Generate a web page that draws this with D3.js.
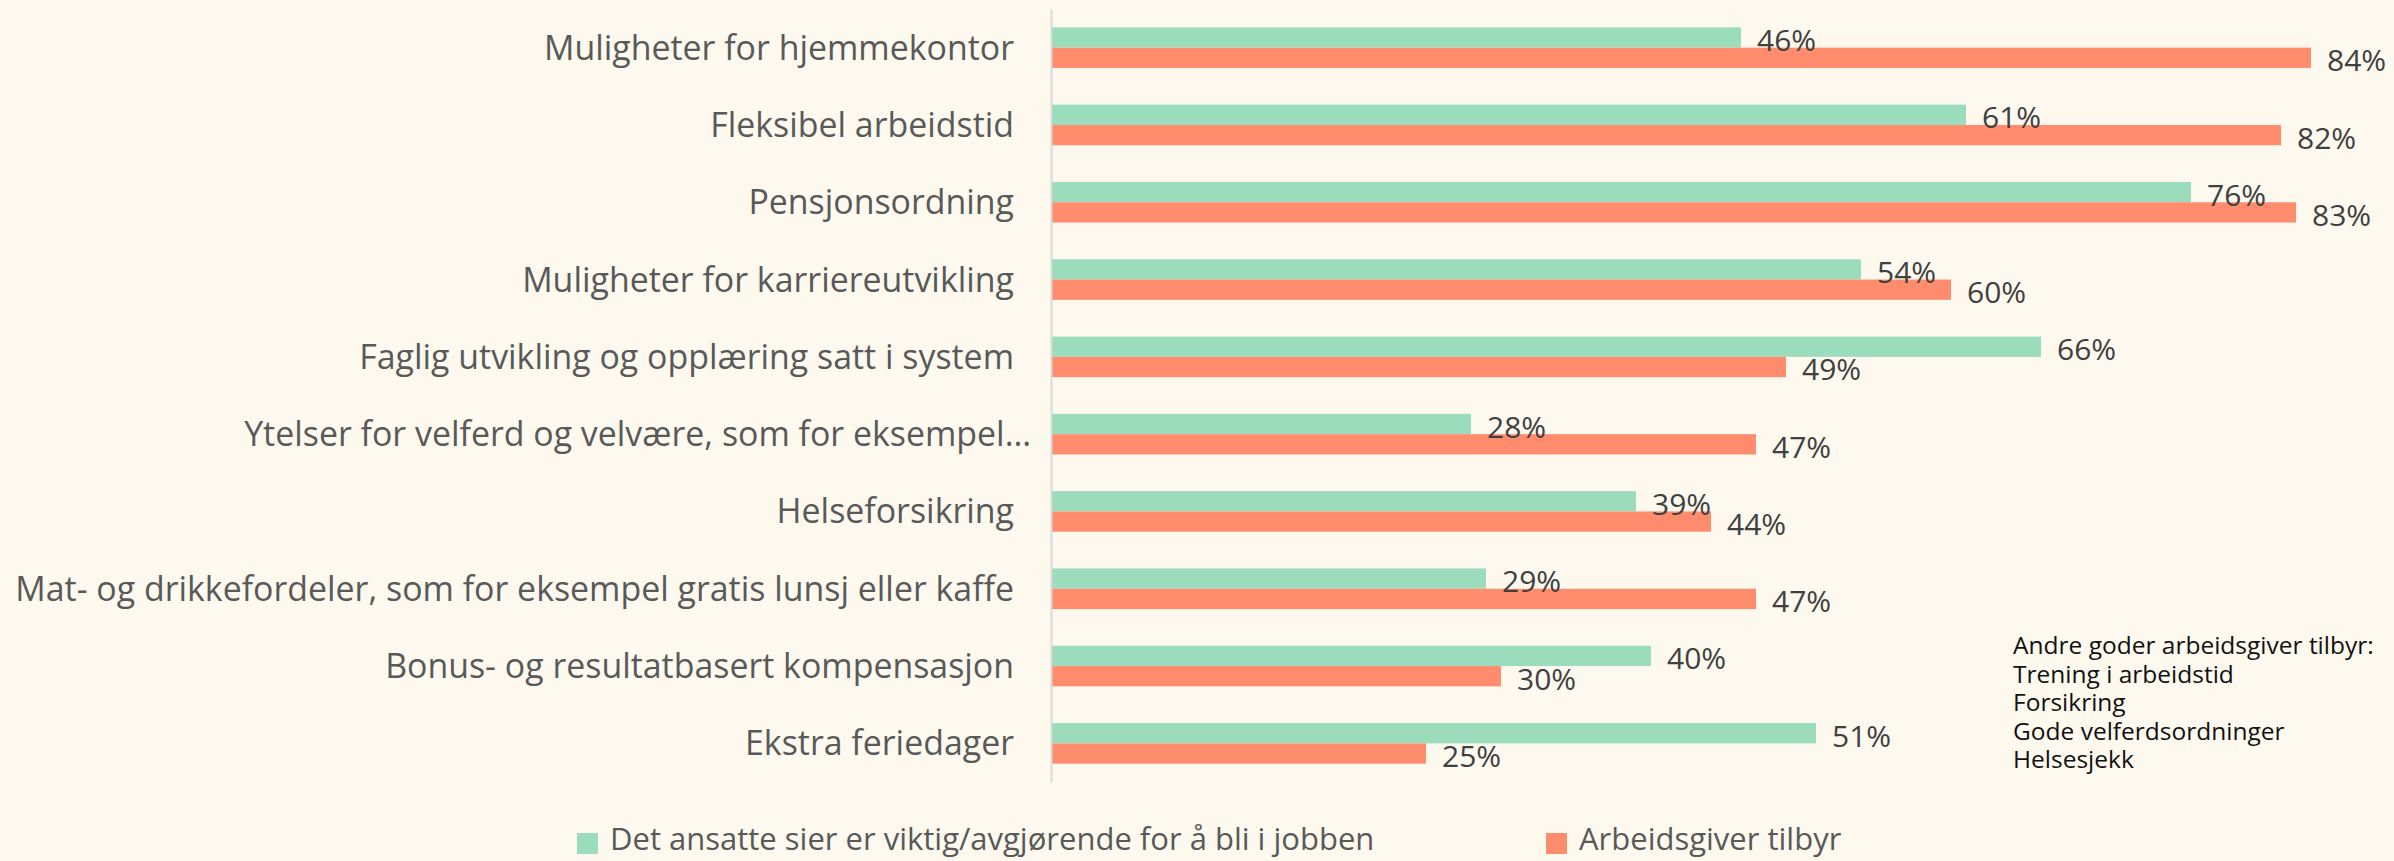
<!DOCTYPE html>
<html>
<head>
<meta charset="utf-8">
<script src="https://cdn.jsdelivr.net/npm/d3@7"></script>
<style>
  html, body { margin: 0; padding: 0; background: #FDF9EE; }
  svg { display: block; font-family: "Open Sans", "Noto Sans", sans-serif; }
  .cat-label   { fill: #595959; }
  .value-label { fill: #404040; }
  .legend-text { fill: #595959; }
  .note-text   { fill: #111111; }
</style>
</head>
<body>
<div id="chart"></div>
<script>
// ── Data ─────────────────────────────────────────────────────
const categories = [
  "Muligheter for hjemmekontor",
  "Fleksibel arbeidstid",
  "Pensjonsordning",
  "Muligheter for karriereutvikling",
  "Faglig utvikling og opplæring satt i system",
  "Ytelser for velferd og velvære, som for eksempel…",
  "Helseforsikring",
  "Mat- og drikkefordeler, som for eksempel gratis lunsj eller kaffe",
  "Bonus- og resultatbasert kompensasjon",
  "Ekstra feriedager"
];
const seriesNames = [
  "Det ansatte sier er viktig/avgjørende for å bli i jobben",
  "Arbeidsgiver tilbyr"
];
const ansatte      = [46, 61, 76, 54, 66, 28, 39, 29, 40, 51];
const arbeidsgiver = [84, 82, 83, 60, 49, 47, 44, 47, 30, 25];
const noteLines = [
  "Andre goder arbeidsgiver tilbyr:",
  "Trening i arbeidstid",
  "Forsikring",
  "Gode velferdsordninger",
  "Helsesjekk"
];

// ── Layout ───────────────────────────────────────────────────
const W = 2394, H = 861;
const plot = { left: 1051, right: 2551, top: 9, bottom: 782 };
const colors = ["#9BDCBD", "#FF8D6D"];

const svg = d3.select("#chart").append("svg")
  .attr("width", W)
  .attr("height", H);

svg.append("rect").attr("width", W).attr("height", H).attr("fill", "#FDF9EE");

// scales
const x = d3.scaleLinear().domain([0, 100]).range([plot.left, plot.right]);
const y = d3.scaleBand().domain(categories).range([plot.top, plot.bottom])
  .paddingInner(0.475).paddingOuter(0.2375);
const sub = d3.scaleBand().domain([0, 1]).range([0, y.bandwidth()]);

const rows = categories.map((c, i) => ({ cat: c, vals: [ansatte[i], arbeidsgiver[i]] }));

// bars
const groups = svg.selectAll(".grp")
  .data(rows)
  .join("g")
    .attr("class", "grp")
    .attr("transform", d => `translate(0,${y(d.cat)})`);

groups.selectAll("rect")
  .data(d => d.vals.map((v, k) => ({ v, k })))
  .join("rect")
    .attr("x", x(0))
    .attr("y", d => sub(d.k))
    .attr("width", d => x(d.v) - x(0))
    .attr("height", sub.bandwidth())
    .attr("fill", d => colors[d.k]);

groups.selectAll(".value-label")
  .data(d => d.vals.map((v, k) => ({ v, k })))
  .join("text")
    .attr("class", "value-label")
    .attr("x", d => x(d.v) + 16)
    .attr("y", d => sub(d.k) + sub.bandwidth() / 2 + 2)
    .attr("dominant-baseline", "central")
    .attr("font-size", 30)
    .text(d => d.v + "%");

// axis line (no ticks)
const yAxis = d3.axisLeft(y).tickSize(0).tickFormat("");
const axisG = svg.append("g")
  .attr("transform", `translate(${plot.left},0)`)
  .call(yAxis);
axisG.select(".domain").attr("stroke", "#D9D9D9").attr("stroke-width", 2);

// category labels
const catLabels = svg.selectAll(".cat-label")
  .data(categories)
  .join("text")
    .attr("class", "cat-label")
    .attr("x", d => d.endsWith("…") ? plot.left - 20 : plot.left - 37)
    .attr("y", d => y(d) + y.bandwidth() / 2 - 1)
    .attr("text-anchor", "end")
    .attr("dominant-baseline", "central")
    .attr("font-size", 32)
    .text(d => d);

// fit label font to the widest label's width in the reference
const longest = catLabels.filter((d, i) => i === 7).node();
const catSize = 32 * 999 / longest.getComputedTextLength();
catLabels.attr("font-size", catSize);

// legend
const legend = svg.append("g");
const legendX = [577, 1546];
seriesNames.forEach((name, k) => {
  legend.append("rect")
    .attr("x", legendX[k]).attr("y", 833)
    .attr("width", 21).attr("height", 21)
    .attr("fill", colors[k]);
  legend.append("text")
    .attr("class", "legend-text")
    .attr("x", legendX[k] + 33).attr("y", 850)
    .attr("font-size", 31)
    .text(name);
});

// side note
svg.append("g").selectAll(".note-text")
  .data(noteLines)
  .join("text")
    .attr("class", "note-text")
    .attr("x", 2013)
    .attr("y", (d, i) => 654 + i * 28.5)
    .attr("font-size", 24.5)
    .text(d => d);
</script>
</body>
</html>
